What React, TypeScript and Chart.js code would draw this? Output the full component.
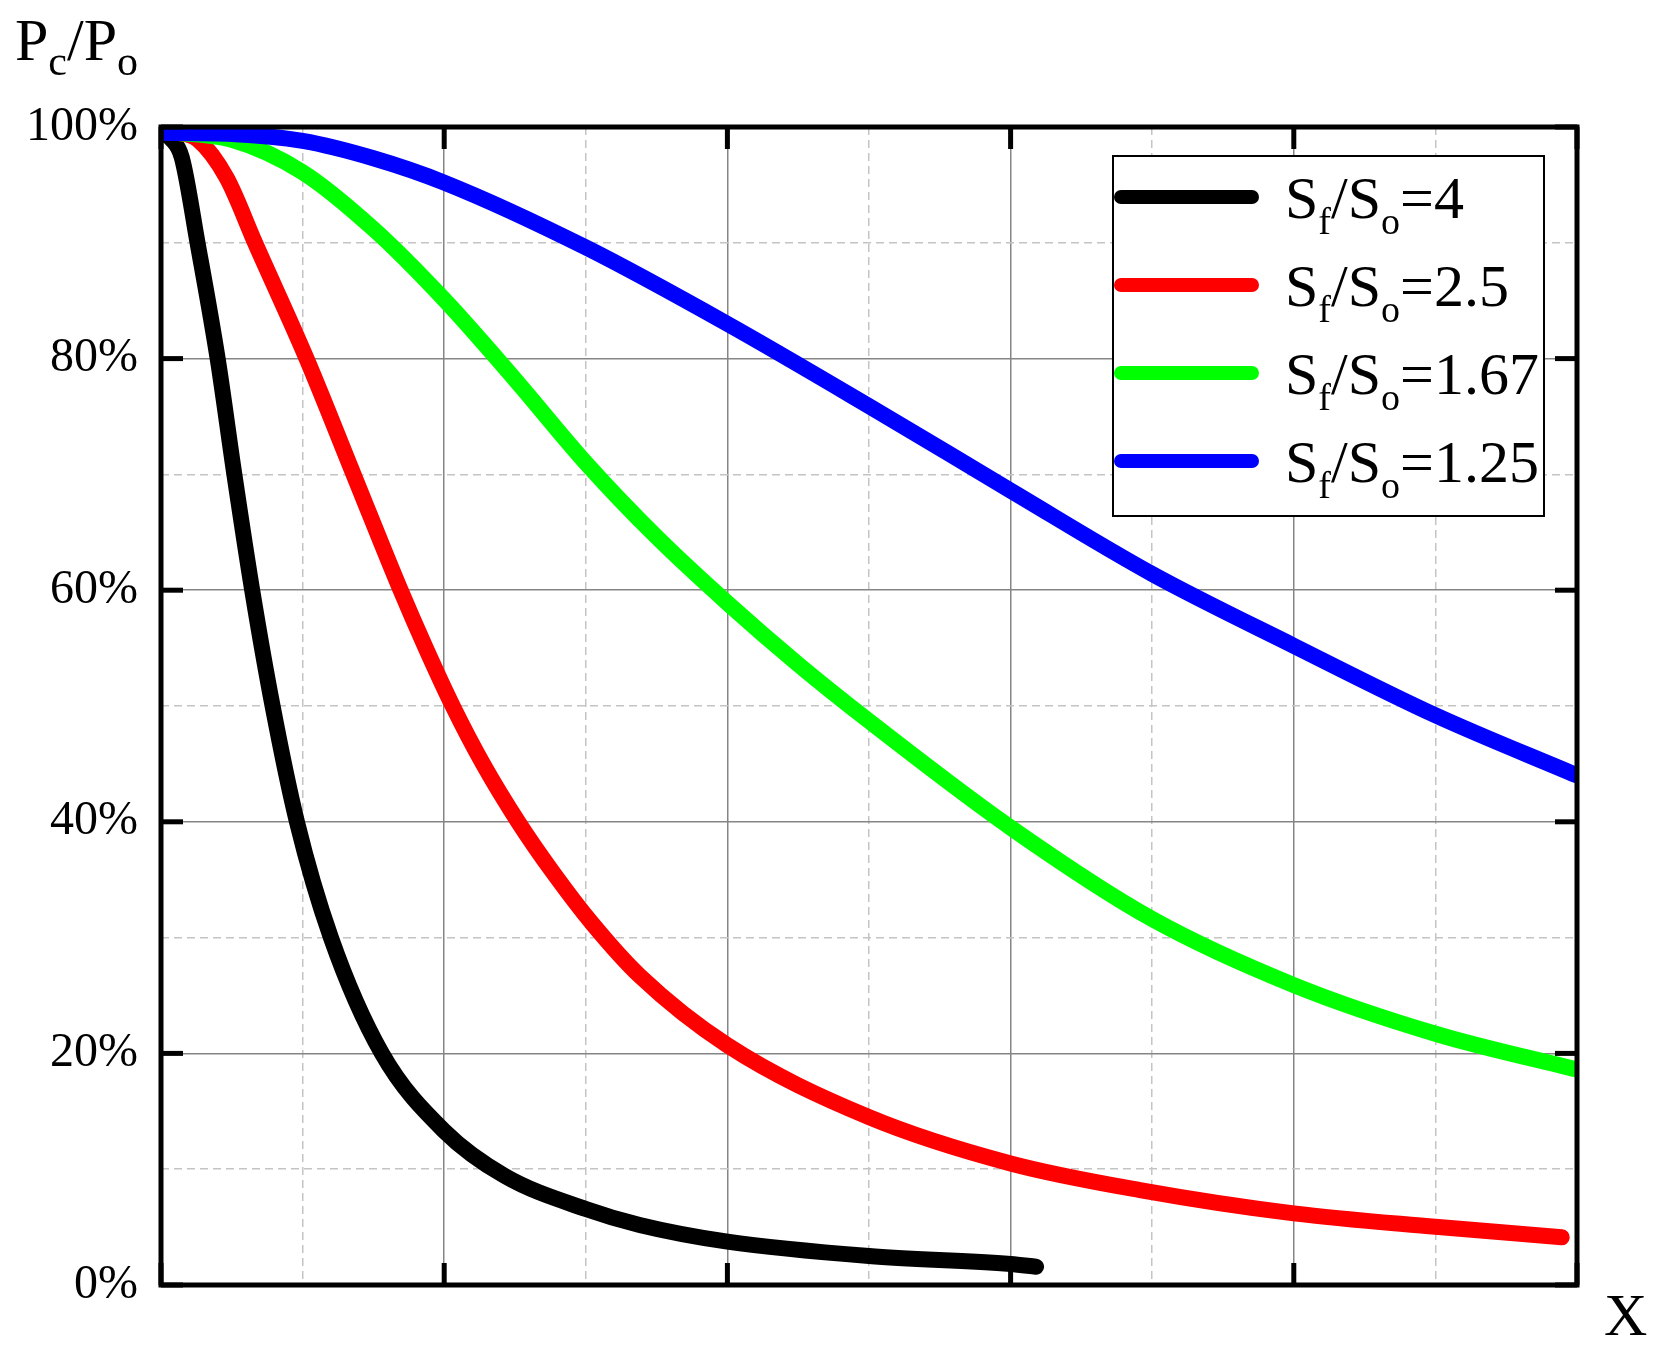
import React, { useEffect, useRef } from 'react';
import { Chart, registerables } from 'chart.js';

Chart.register(...registerables);

// ---- data ----
const seriesLabels = ['4', '2.5', '1.67', '1.25'];
const seriesColors = ['#000000', '#ff0000', '#00ff00', '#0000ff'];

const blackX = [0, 0.035, 0.073, 0.129, 0.2, 0.259, 0.322, 0.394, 0.48, 0.6, 0.78, 1.0, 1.215, 1.5, 1.69, 2.0, 2.5, 3.0, 3.09];
const blackY = [99.6, 99.0, 97.4, 90, 80, 70, 60, 50, 40, 30, 20, 13.3, 9.4, 6.56, 5.18, 3.74, 2.5, 1.81, 1.58];

const redX = [0, 0.06, 0.13, 0.232, 0.332, 0.514, 0.68, 0.846, 0.935, 1.03, 1.137, 1.261, 1.388, 1.523, 1.69, 2.0, 2.5, 3.0, 3.457, 4.0, 4.5, 4.946];
const redY = [99.6, 99.5, 98.9, 95.6, 90, 80, 70, 60, 55, 50, 45, 40, 35.5, 31.2, 26.7, 20.7, 14.5, 10.5, 8.2, 6.19, 5.03, 4.12];

const greenX = [0, 0.25, 0.5, 0.75, 1.0, 1.25, 1.5, 1.75, 2.0, 2.25, 2.5, 3.0, 3.5, 4.0, 4.5, 5.0];
const greenY = [99.6, 98.9, 96.1, 91.2, 85.1, 78.2, 71.0, 64.6, 58.9, 53.6, 48.7, 39.5, 31.6, 25.9, 21.7, 18.6];

const blueX = [0, 0.25, 0.5, 0.75, 1.0, 1.5, 2.0, 2.5, 3.0, 3.5, 4.0, 4.5, 5.0];
const blueY = [99.5, 99.4, 98.8, 97.3, 95.2, 89.6, 83.0, 75.9, 68.6, 61.4, 55.2, 49.2, 44.0];

const yMajorTicks = [0, 20, 40, 60, 80, 100];
const xMajorTicks = [0, 1, 2, 3, 4, 5];
const yTickLabels = ['0%', '20%', '40%', '60%', '80%', '100%'];

const SERIF = '"Liberation Serif", "Times New Roman", serif';

type Part = { t: string; sub?: boolean };

function drawRich(ctx: CanvasRenderingContext2D, parts: Part[], x: number, baseline: number, mainSize: number, subSize: number, subDrop: number) {
  let cx = x;
  for (const p of parts) {
    ctx.font = `${p.sub ? subSize : mainSize}px ${SERIF}`;
    ctx.fillText(p.t, cx, p.sub ? baseline + subDrop : baseline);
    cx += ctx.measureText(p.t).width;
  }
}

const decorPlugin = {
  id: 'decor',
  afterDraw(chart: any) {
    const { ctx, chartArea: a, scales } = chart;
    const xs = scales.x;
    const ys = scales.y;
    ctx.save();
    ctx.strokeStyle = '#000';
    ctx.lineCap = 'butt';
    ctx.lineWidth = 5;
    const seg = (x1: number, y1: number, x2: number, y2: number) => {
      ctx.beginPath();
      ctx.moveTo(x1, y1);
      ctx.lineTo(x2, y2);
      ctx.stroke();
    };
    const tl = 22;
    for (const v of xMajorTicks) {
      const px = xs.getPixelForValue(v);
      seg(px, a.bottom, px, a.bottom - tl);
      seg(px, a.top, px, a.top + tl);
    }
    for (const v of yMajorTicks) {
      const py = ys.getPixelForValue(v);
      seg(a.left, py, a.left + tl, py);
      seg(a.right, py, a.right - tl, py);
    }
    ctx.lineWidth = 5;
    ctx.strokeRect(a.left, a.top, a.right - a.left, a.bottom - a.top);

    // legend
    const bx = a.right - 464;
    const by = a.top + 29;
    const bw = 431;
    const bh = 360;
    ctx.fillStyle = '#fff';
    ctx.fillRect(bx, by, bw, bh);
    ctx.lineWidth = 2;
    ctx.strokeRect(bx, by, bw, bh);
    ctx.textBaseline = 'alphabetic';
    ctx.textAlign = 'left';
    for (let i = 0; i < seriesLabels.length; i++) {
      const cy = by + 41 + i * 88;
      ctx.strokeStyle = seriesColors[i];
      ctx.lineWidth = 14;
      ctx.lineCap = 'round';
      seg(bx + 8, cy, bx + 139, cy);
      ctx.fillStyle = '#000';
      drawRich(ctx, [
        { t: 'S' }, { t: 'f', sub: true }, { t: '/' }, { t: 'S' }, { t: 'o', sub: true }, { t: '=' + seriesLabels[i] },
      ], bx + 172, cy + 21, 60, 38, 16);
    }

    // axis titles
    ctx.fillStyle = '#000';
    drawRich(ctx, [{ t: 'P' }, { t: 'c', sub: true }, { t: '/' }, { t: 'P' }, { t: 'o', sub: true }], 15, 60, 60, 42, 15);
    ctx.font = `60px ${SERIF}`;
    ctx.fillText('X', 1604, 1335);
    ctx.restore();
  },
};

function pts(xs: number[], ys: number[]) {
  return xs.map((x, i) => ({ x, y: ys[i] }));
}

export default function App() {
  const ref = useRef<HTMLCanvasElement | null>(null);
  useEffect(() => {
    const canvas = ref.current;
    if (!canvas) return;
    const allX = [blackX, redX, greenX, blueX];
    const allY = [blackY, redY, greenY, blueY];
    const chart = new Chart(canvas, {
      type: 'line',
      data: {
        datasets: seriesLabels.map((lab, i) => ({
          label: 'Sf/So=' + lab,
          data: pts(allX[i], allY[i]),
          borderColor: seriesColors[i],
          backgroundColor: seriesColors[i],
          borderWidth: 16,
          pointRadius: 0,
          cubicInterpolationMode: 'monotone',
          borderCapStyle: 'round',
          borderJoinStyle: 'round',
          fill: false,
          clip: 0,
          order: 3 - i,
        })) as any,
      },
      options: {
        animation: false,
        responsive: false,
        events: [],
        layout: { padding: { left: 0, right: 85, top: 127, bottom: 0 } },
        plugins: { legend: { display: false }, tooltip: { enabled: false } },
        scales: {
          x: {
            type: 'linear',
            min: 0,
            max: 5,
            ticks: { stepSize: 0.5, display: false },
            grid: {
              drawTicks: false,
              color: (c: any) => (c.tick && Number.isInteger(c.tick.value) ? '#858585' : '#c4c4c4'),
              lineWidth: 1.5,
            },
            border: {
              display: false,
              dash: (c: any) => (c.tick && !Number.isInteger(c.tick.value) ? [8, 5] : []),
            },
            afterFit: (s: any) => { s.height = 72; },
          },
          y: {
            type: 'linear',
            min: 0,
            max: 100,
            ticks: {
              stepSize: 10,
              padding: 23,
              color: '#000',
              font: { family: SERIF, size: 48 },
              callback: (v: any) => {
                const idx = yMajorTicks.indexOf(Number(v));
                return idx >= 0 ? yTickLabels[idx] : '';
              },
            },
            grid: {
              drawTicks: false,
              color: (c: any) => (c.tick && c.tick.value % 20 === 0 ? '#858585' : '#c4c4c4'),
              lineWidth: 1.5,
            },
            border: {
              display: false,
              dash: (c: any) => (c.tick && c.tick.value % 20 !== 0 ? [8, 5] : []),
            },
            afterFit: (s: any) => { s.width = 161; },
          },
        },
      } as any,
      plugins: [decorPlugin],
    });
    return () => chart.destroy();
  }, []);
  return (
    <div style={{ position: 'fixed', left: 0, top: 0, width: 1662, height: 1357, background: '#fff' }}>
      <canvas ref={ref} width={1662} height={1357} style={{ width: 1662, height: 1357, display: 'block' }} />
    </div>
  );
}
